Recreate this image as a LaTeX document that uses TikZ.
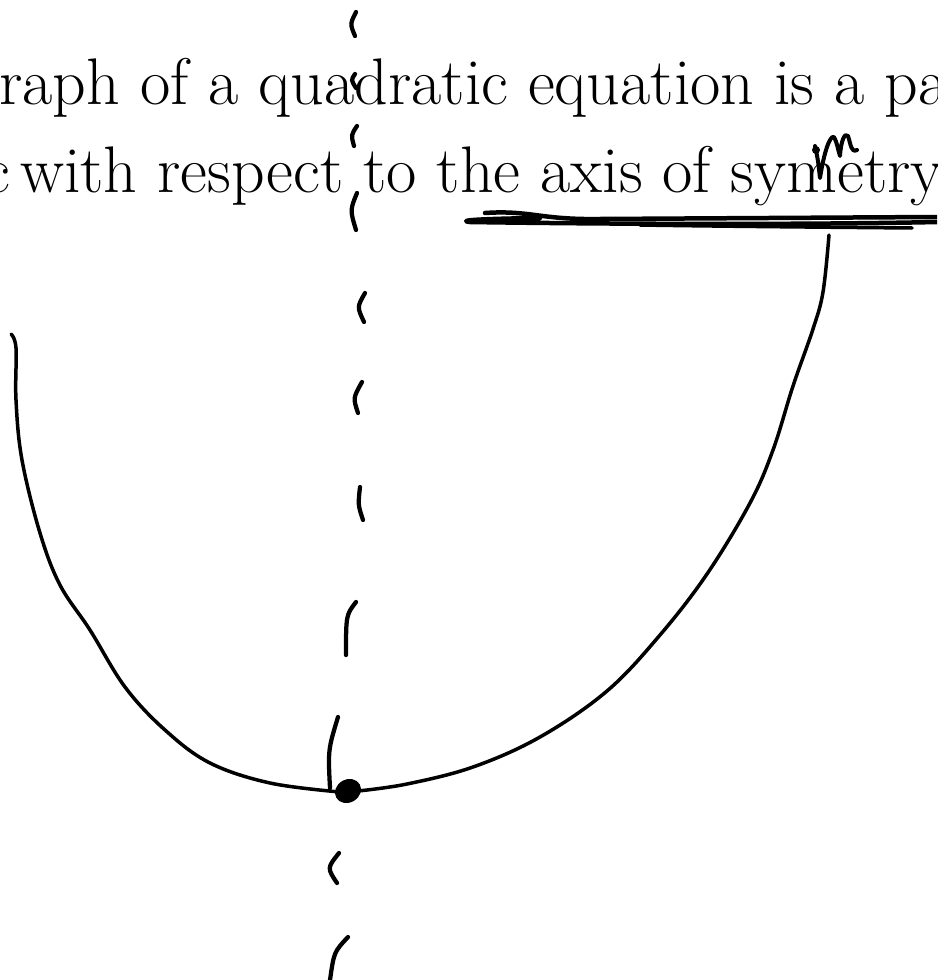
\documentclass[tikz,border=0pt]{standalone}
\usepackage{fontspec}
\usetikzlibrary{shapes.geometric}
\begin{document}
\begin{tikzpicture}[x=0.02cm, y=-0.02cm,
    pen/.style={line width=0.07cm, line cap=round, line join=round},
    dashpen/.style={line width=0.085cm, line cap=round},
    every node/.style={inner sep=0pt, font=\fontsize{37.5}{45}\selectfont}]
  \useasboundingbox (0,0) rectangle (937,980);
  \clip (0,0) rectangle (937,980);
  \node[anchor=base west] (line1) at (-1,105) {raph of a quadratic equation is a pa};
  \node[anchor=base west] (line2) at (-17,192) {c\hspace{-0.15em} with respect to the axis of symetry};
  \foreach \xa/\ya/\xb/\yb/\xc/\yc in {356/12/350/24/355/36, 355/74/351/80/356/88,
      357/126/351/135/354/146, 357/193/350/210/356/230, 365/293/357/307/364/322,
      362/382/353/398/358/413, 360/487/358/505/363/520, 356/602/346/615/346/655,
      338/717/328/750/330/788, 339/853/327/868/337/883, 348/937/334/952/330/980}
    \draw[dashpen] (\xa,\ya) .. controls (\xb,\yb) .. (\xc,\yc);
  \draw[pen] plot[smooth, tension=0.6] coordinates {(11,334) (16,348) (16,400) (22,460)
      (40,533) (60,585) (90,630) (125,687) (165,730) (210,763) (270,783) (340,792)};
  \draw[pen] plot[smooth, tension=0.6] coordinates {(358,791) (407,784) (473,767) (540,737)
      (607,691) (660,635) (707,574) (750,503) (773,450) (793,386) (813,329) (823,292) (829,235)};
  \node[ellipse, fill, minimum width=0.54cm, minimum height=0.46cm, rotate=30] (vertex) at (348,791) {};
  \draw[pen, line width=0.09cm] (485,213) .. controls (530,210) and (540,220) .. (600,219) -- (937,217);
  \draw[pen, line width=0.09cm] (937,222) .. controls (800,225) and (600,224) .. (470,222)
      .. controls (460,221) and (465,219) .. (540,218);
  \draw[pen] (912,228) .. controls (800,227) and (700,226) .. (640,225);
  \draw[pen, line width=0.08cm] (815,146) .. controls (818,160) .. (820,178)
      .. controls (824,152) and (830,135) .. (834,137)
      .. controls (837,142) and (838,150) .. (840,156)
      .. controls (841,140) and (845,132) .. (848,136)
      .. controls (851,145) and (851,153) .. (857,150);
  \fill (816,150) circle[radius=4];
\end{tikzpicture}
\end{document}
